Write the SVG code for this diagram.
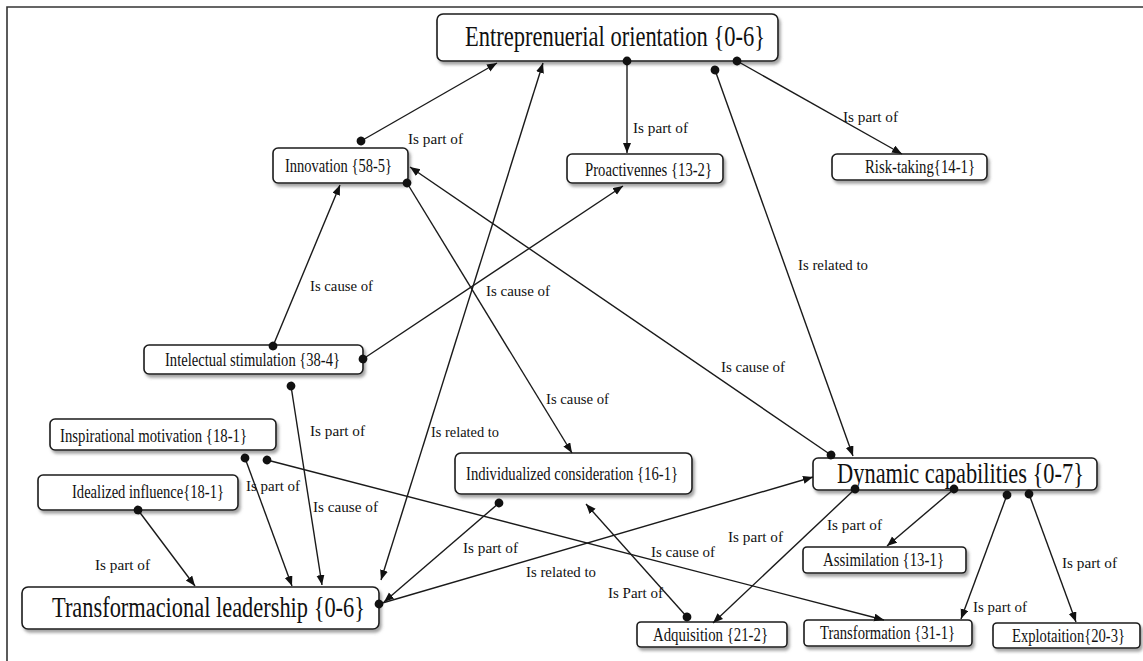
<svg xmlns="http://www.w3.org/2000/svg" width="1143" height="661" viewBox="0 0 1143 661">
<defs>
<filter id="sh" x="-10%" y="-30%" width="120%" height="170%">
<feDropShadow dx="2" dy="3" stdDeviation="1.6" flood-color="#666" flood-opacity="0.6"/>
</filter>
<marker id="arr" markerUnits="userSpaceOnUse" markerWidth="11" markerHeight="9" refX="10" refY="4" orient="auto-start-reverse">
<path d="M0,0 L10,4 L0,8 z" fill="#111"/>
</marker>
<marker id="dot" markerUnits="userSpaceOnUse" markerWidth="10" markerHeight="10" refX="5" refY="5" orient="auto">
<circle cx="5" cy="5" r="4.4" fill="#111"/>
</marker>
</defs>
<style>
.box{fill:#fff;stroke:#1a1a1a;stroke-width:1.6;filter:url(#sh)}
text{font-family:'Liberation Serif','DejaVu Serif','Times New Roman',serif;fill:#111}
.nt{font-size:13.5px}
.big{font-size:21.75px}
.lb{font-size:15px}
.c{fill:none;stroke:#1a1a1a;stroke-width:1.4;marker-end:url(#arr)}
.d{marker-start:url(#dot)}
.frame{fill:none;stroke:#333;stroke-width:1.6}
</style>
<rect width="1143" height="661" fill="#fff"/>
<path class="frame" d="M7,661 L7,7 L1143,7"/>

<g id="n-eo"><rect class="box" x="437" y="14" width="341" height="47" rx="6"/><text class="nt big" transform="translate(465,46) scale(1,1.333)" textLength="300" lengthAdjust="spacingAndGlyphs">Entreprenuerial orientation {0-6}</text></g>
<g id="n-innovation"><rect class="box" x="273" y="148" width="135" height="35" rx="5"/><text class="nt" transform="translate(285,172) scale(1,1.333)" textLength="107" lengthAdjust="spacingAndGlyphs">Innovation {58-5}</text></g>
<g id="n-proactivennes"><rect class="box" x="567" y="154" width="156" height="29" rx="5"/><text class="nt" transform="translate(585,176) scale(1,1.333)" textLength="127" lengthAdjust="spacingAndGlyphs">Proactivennes {13-2}</text></g>
<g id="n-risk"><rect class="box" x="832" y="154" width="155" height="26" rx="5"/><text class="nt" transform="translate(865,173) scale(1,1.333)" textLength="110" lengthAdjust="spacingAndGlyphs">Risk-taking{14-1}</text></g>
<g id="n-intelectual"><rect class="box" x="144" y="345" width="219" height="29" rx="5"/><text class="nt" transform="translate(165,366) scale(1,1.333)" textLength="175" lengthAdjust="spacingAndGlyphs">Intelectual stimulation {38-4}</text></g>
<g id="n-inspirational"><rect class="box" x="50" y="419" width="226" height="31" rx="5"/><text class="nt" transform="translate(60,442) scale(1,1.333)" textLength="187" lengthAdjust="spacingAndGlyphs">Inspirational motivation {18-1}</text></g>
<g id="n-idealized"><rect class="box" x="38" y="475" width="200" height="35" rx="5"/><text class="nt" transform="translate(72,498) scale(1,1.333)" textLength="152" lengthAdjust="spacingAndGlyphs">Idealized influence{18-1}</text></g>
<g id="n-tl"><rect class="box" x="22" y="587" width="357" height="42" rx="6"/><text class="nt big" transform="translate(52,617) scale(1,1.333)" textLength="313" lengthAdjust="spacingAndGlyphs" style="font-size:22.5px">Transformacional leadership {0-6}</text></g>
<g id="n-ic"><rect class="box" x="455" y="453" width="237" height="41" rx="6"/><text class="nt" transform="translate(466,480) scale(1,1.333)" textLength="212" lengthAdjust="spacingAndGlyphs">Individualized consideration {16-1}</text></g>
<g id="n-adq"><rect class="box" x="637" y="622" width="150" height="25" rx="4"/><text class="nt" transform="translate(653,641) scale(1,1.333)" textLength="115" lengthAdjust="spacingAndGlyphs">Adquisition {21-2}</text></g>
<g id="n-dc"><rect class="box" x="813" y="458" width="284" height="32" rx="5"/><text class="nt big" transform="translate(837,483) scale(1,1.333)" textLength="247" lengthAdjust="spacingAndGlyphs">Dynamic capabilities {0-7}</text></g>
<g id="n-assim"><rect class="box" x="803" y="547" width="163" height="26" rx="4"/><text class="nt" transform="translate(823,566) scale(1,1.333)" textLength="121" lengthAdjust="spacingAndGlyphs">Assimilation {13-1}</text></g>
<g id="n-transf"><rect class="box" x="804" y="620" width="168" height="26" rx="4"/><text class="nt" transform="translate(820,639) scale(1,1.333)" textLength="135" lengthAdjust="spacingAndGlyphs">Transformation {31-1}</text></g>
<g id="n-explot"><rect class="box" x="993" y="623" width="147" height="25" rx="4"/><text class="nt" transform="translate(1012,642) scale(1,1.333)" textLength="113" lengthAdjust="spacingAndGlyphs">Explotaition{20-3}</text></g>

<g id="connectors">
<line class="c d" x1="361" y1="141" x2="497" y2="63"/>
<line class="c d" x1="627" y1="61" x2="627" y2="153"/>
<line class="c d" x1="737" y1="61" x2="902" y2="154"/>
<line class="c d" x1="715" y1="70" x2="853" y2="456"/>
<line class="c d" x1="273" y1="346" x2="340" y2="185"/>
<line class="c d" x1="363" y1="359" x2="623" y2="186"/>
<line class="c d" x1="407" y1="183" x2="572" y2="453"/>
<line class="c d" x1="831" y1="455" x2="410" y2="167"/>
<line class="c" x1="543" y1="63" x2="381" y2="580" style="marker-start:url(#arr)"/>
<line class="c d" x1="291" y1="386" x2="322" y2="585"/>
<line class="c d" x1="245" y1="458" x2="292" y2="586"/>
<line class="c d" x1="267" y1="460" x2="884" y2="620"/>
<line class="c d" x1="138" y1="510" x2="195" y2="586"/>
<line class="c d" x1="499" y1="503" x2="384" y2="602"/>
<line class="c d" x1="379" y1="604" x2="813" y2="477"/>
<line class="c d" x1="687" y1="617" x2="586" y2="504"/>
<line class="c d" x1="855" y1="489" x2="713" y2="623"/>
<line class="c d" x1="954" y1="489" x2="887" y2="546"/>
<line class="c d" x1="1007" y1="495" x2="961" y2="619"/>
<line class="c d" x1="1029" y1="494" x2="1076" y2="622"/>
</g>

<g id="labels">
<text class="lb" x="408" y="144" textLength="55" lengthAdjust="spacingAndGlyphs">Is part of</text>
<text class="lb" x="633" y="133" textLength="55" lengthAdjust="spacingAndGlyphs">Is part of</text>
<text class="lb" x="843" y="122" textLength="55" lengthAdjust="spacingAndGlyphs">Is part of</text>
<text class="lb" x="798" y="270" textLength="70" lengthAdjust="spacingAndGlyphs">Is related to</text>
<text class="lb" x="310" y="291" textLength="63" lengthAdjust="spacingAndGlyphs">Is cause of</text>
<text class="lb" x="486" y="296" textLength="64" lengthAdjust="spacingAndGlyphs">Is cause of</text>
<text class="lb" x="546" y="404" textLength="63" lengthAdjust="spacingAndGlyphs">Is cause of</text>
<text class="lb" x="721" y="372" textLength="64" lengthAdjust="spacingAndGlyphs">Is cause of</text>
<text class="lb" x="431" y="437" textLength="68" lengthAdjust="spacingAndGlyphs">Is related to</text>
<text class="lb" x="310" y="436" textLength="55" lengthAdjust="spacingAndGlyphs">Is part of</text>
<text class="lb" x="246" y="491" textLength="54" lengthAdjust="spacingAndGlyphs">Is part of</text>
<text class="lb" x="313" y="512" textLength="65" lengthAdjust="spacingAndGlyphs">Is cause of</text>
<text class="lb" x="95" y="570" textLength="55" lengthAdjust="spacingAndGlyphs">Is part of</text>
<text class="lb" x="463" y="553" textLength="55" lengthAdjust="spacingAndGlyphs">Is part of</text>
<text class="lb" x="526" y="577" textLength="70" lengthAdjust="spacingAndGlyphs">Is related to</text>
<text class="lb" x="608" y="598" textLength="55" lengthAdjust="spacingAndGlyphs">Is Part of</text>
<text class="lb" x="651" y="557" textLength="64" lengthAdjust="spacingAndGlyphs">Is cause of</text>
<text class="lb" x="728" y="542" textLength="55" lengthAdjust="spacingAndGlyphs">Is part of</text>
<text class="lb" x="827" y="530" textLength="55" lengthAdjust="spacingAndGlyphs">Is part of</text>
<text class="lb" x="1062" y="568" textLength="55" lengthAdjust="spacingAndGlyphs">Is part of</text>
<text class="lb" x="973" y="612" textLength="54" lengthAdjust="spacingAndGlyphs">Is part of</text>
</g>
</svg>
